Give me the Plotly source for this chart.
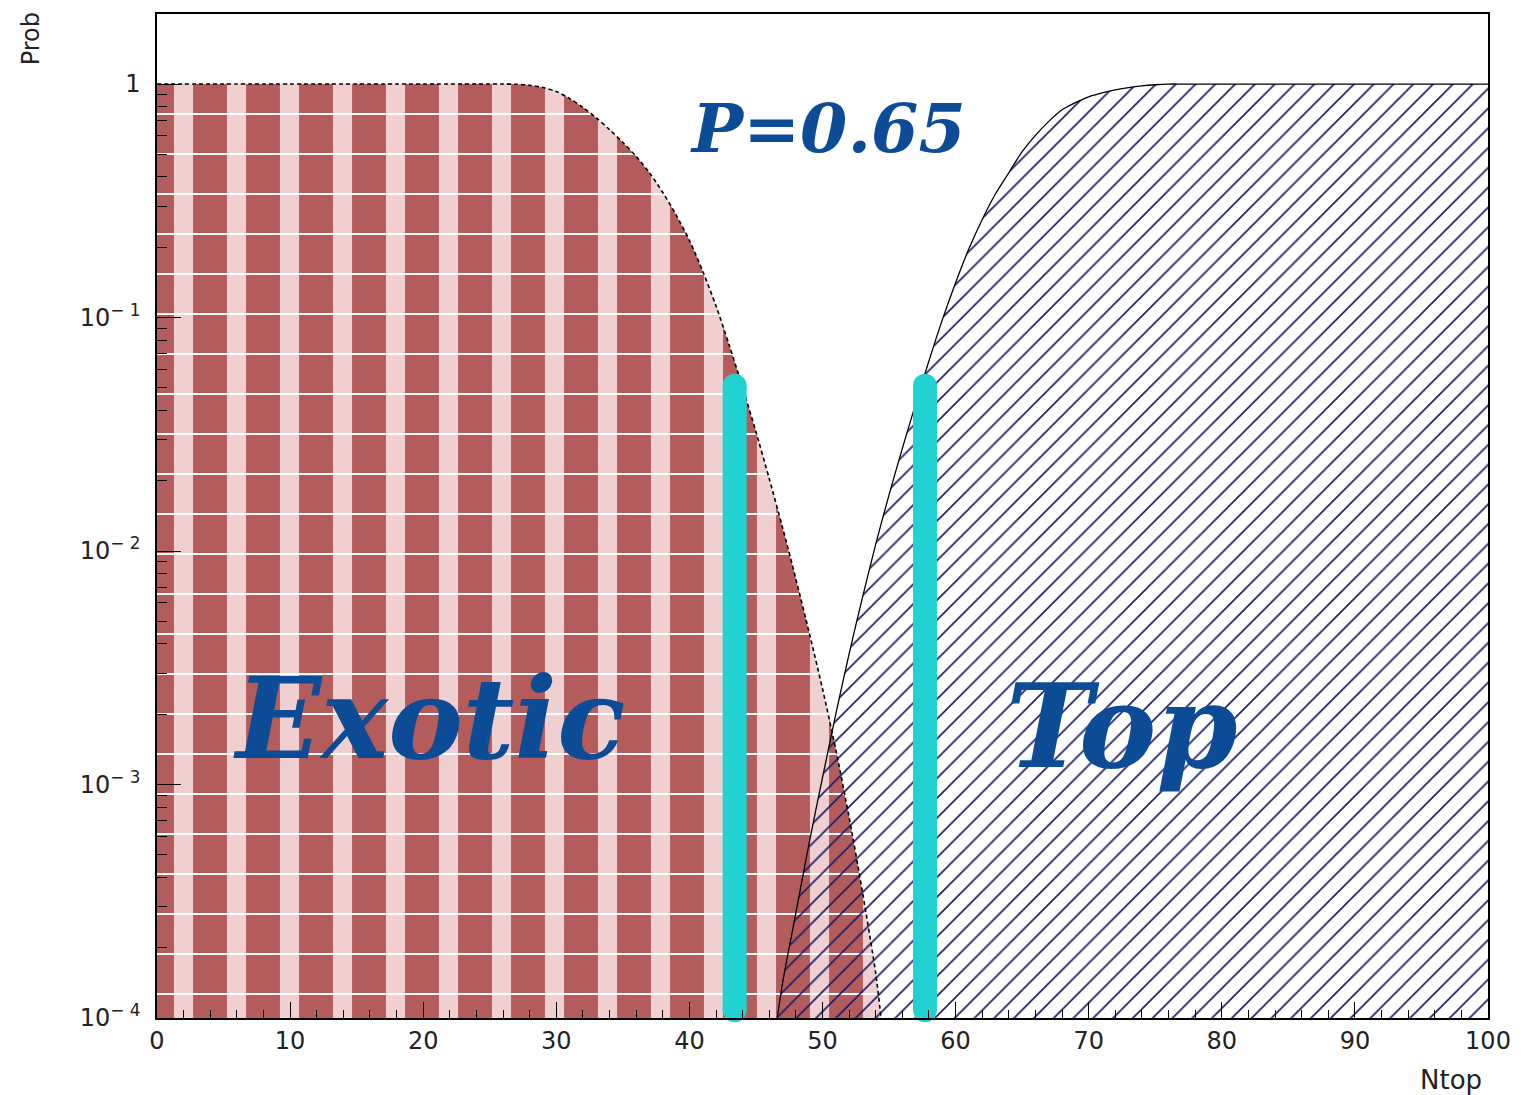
import plotly.graph_objects as go

# ---------------- data ----------------
exotic_x = list(range(0, 55)) + [54.4]
exotic_p = [1.0] * 27 + [0.998, 0.9886, 0.966, 0.929, 0.867, 0.794, 0.716, 0.638, 0.562,
                          0.490, 0.417, 0.343, 0.275, 0.214, 0.158, 0.112, 0.0759, 0.0501,
                          0.0324, 0.0204, 0.0126, 0.00759, 0.00447, 0.00257, 0.00141,
                          0.000724, 0.000347, 0.000155, 0.0001]
exotic_p = exotic_p[:len(exotic_x)]

top_x = [46.6] + list(range(47, 101))
top_p = [0.0001, 0.000141, 0.000282, 0.000562, 0.00107, 0.00200, 0.00363, 0.00631,
         0.0107, 0.0174, 0.0275, 0.0427, 0.0653, 0.0977, 0.141, 0.197, 0.263, 0.339,
         0.417, 0.513, 0.603, 0.692, 0.776, 0.832, 0.881, 0.916, 0.944, 0.966, 0.982,
         0.993] + [1.0] * 25
top_p = top_p[:len(top_x)]

cut_x = [43.4, 57.7]
cut_range = [1.08e-4, 0.051]

x_ticks = list(range(0, 101, 10))
y_tickvals = [1e-4, 1e-3, 1e-2, 1e-1, 1]
y_ticktext = ["10<sup>\u2212 4</sup>", "10<sup>\u2212 3</sup>", "10<sup>\u2212 2</sup>",
              "10<sup>\u2212 1</sup>", "1"]

label_p = "P=0.65"
label_exotic = "Exotic"
label_top = "Top"

# ---------------- styles ----------------
RED_DARK = "#b45c5c"
RED_LIGHT = "#efcfcf"
NAVY = "#1c1c6a"
CYAN = "#22d2d2"
TXT_BLUE = "#0c4b96"
SERIF = "DejaVu Serif"
SANS = "DejaVu Sans"

fig = go.Figure()

# Exotic: dark red with light vertical bands
fig.add_trace(go.Scatter(
    x=exotic_x, y=exotic_p, mode="lines", fill="tozeroy",
    line=dict(width=0, shape="spline", smoothing=0.8),
    fillcolor=RED_DARK,
    fillpattern=dict(shape="|", bgcolor=RED_DARK, fgcolor=RED_LIGHT,
                     size=53, solidity=0.36, fillmode="replace"),
    hoverinfo="skip", showlegend=False))
# Exotic: white horizontal lines
fig.add_trace(go.Scatter(
    x=exotic_x, y=exotic_p, mode="lines", fill="tozeroy",
    line=dict(width=0, shape="spline", smoothing=0.8),
    fillcolor="rgba(0,0,0,0)",
    fillpattern=dict(shape="-", bgcolor="rgba(0,0,0,0)", fgcolor="#ffffff",
                     size=40, solidity=0.05, fillmode="replace"),
    hoverinfo="skip", showlegend=False))
# Top: navy diagonal hatch
fig.add_trace(go.Scatter(
    x=top_x, y=top_p, mode="lines", fill="tozeroy",
    line=dict(width=0, shape="spline", smoothing=0.8),
    fillcolor="rgba(0,0,0,0)",
    fillpattern=dict(shape="/", bgcolor="rgba(0,0,0,0)", fgcolor=NAVY,
                     size=14, solidity=0.12, fillmode="replace"),
    hoverinfo="skip", showlegend=False))

# outlines
fig.add_trace(go.Scatter(
    x=exotic_x, y=exotic_p, mode="lines",
    line=dict(color="black", width=1.6, dash="4px,3px", shape="spline", smoothing=0.8),
    hoverinfo="skip", showlegend=False))
fig.add_trace(go.Scatter(
    x=top_x, y=top_p, mode="lines",
    line=dict(color="black", width=1.3, shape="spline", smoothing=0.8),
    hoverinfo="skip", showlegend=False))

# cyan cut lines with rounded ends
for cx in cut_x:
    fig.add_trace(go.Scatter(
        x=[cx, cx], y=cut_range, mode="lines+markers",
        line=dict(color=CYAN, width=24),
        marker=dict(color=CYAN, size=24, line=dict(width=0)),
        cliponaxis=False, hoverinfo="skip", showlegend=False))

# text labels
fig.add_annotation(text="<b><i>%s</i></b>" % label_p, xref="paper", yref="paper",
                   x=0.504, y=0.886, xanchor="center", yanchor="middle", showarrow=False,
                   font=dict(family=SERIF, size=68, color=TXT_BLUE))
fig.add_annotation(text="<b><i>%s</i></b>" % label_exotic, xref="paper", yref="paper",
                   x=0.204, y=0.298, xanchor="center", yanchor="middle", showarrow=False,
                   font=dict(family=SERIF, size=112, color=TXT_BLUE))
fig.add_annotation(text="<b><i>%s</i></b>" % label_top, xref="paper", yref="paper",
                   x=0.725, y=0.291, xanchor="center", yanchor="middle", showarrow=False,
                   font=dict(family=SERIF, size=116, color=TXT_BLUE))

# axis titles
fig.add_annotation(text="Prob", xref="paper", yref="paper", x=-0.094, y=1.004,
                   xanchor="center", yanchor="top", textangle=-90, showarrow=False,
                   font=dict(family=SANS, size=24, color="#222"))
fig.add_annotation(text="Ntop", xref="paper", yref="paper", x=0.972, y=-0.045,
                   xanchor="center", yanchor="top", showarrow=False,
                   font=dict(family=SANS, size=26, color="#222"))

fig.update_layout(
    width=1519, height=1087,
    margin=dict(l=149, r=39, t=4, b=77),
    paper_bgcolor="white", plot_bgcolor="white",
    xaxis=dict(range=[0, 100], tickvals=x_ticks, ticks="inside", ticklen=16,
               tickcolor="black", tickwidth=1.3,
               showline=True, linecolor="black", linewidth=1.5, mirror=True,
               showgrid=False, zeroline=False,
               tickfont=dict(family=SANS, size=24, color="#222"),
               minor=dict(ticks="inside", ticklen=8, dtick=2, tickcolor="black",
                          tickwidth=1.1, showgrid=False)),
    yaxis=dict(type="log", range=[-4, 0.3], tickvals=y_tickvals, ticktext=y_ticktext,
               ticks="inside", ticklen=24, tickcolor="black", tickwidth=1.3,
               showline=True, linecolor="black", linewidth=1.5, mirror=True,
               showgrid=False, zeroline=False, ticklabelstandoff=10,
               tickfont=dict(family=SANS, size=24, color="#222"),
               minor=dict(ticks="inside", ticklen=10, dtick="D1", tickcolor="black",
                          tickwidth=1.1, showgrid=False)),
)

fig.write_html("out.html")
